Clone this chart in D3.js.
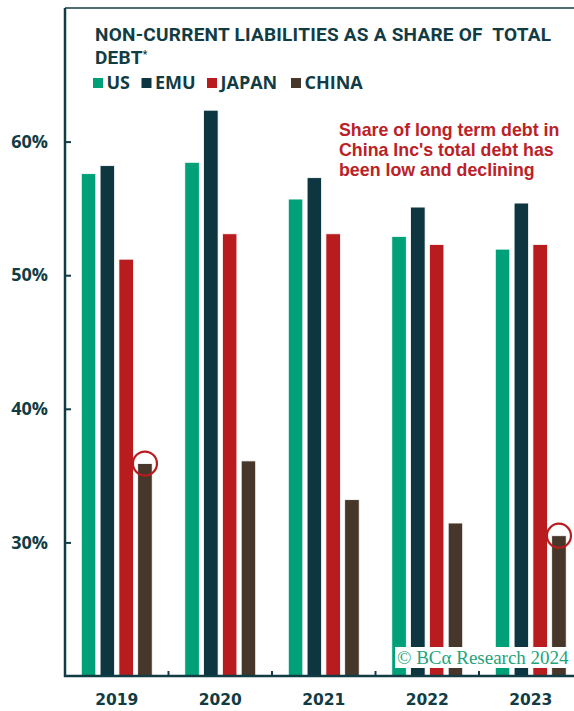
<!DOCTYPE html>
<html>
<head>
<meta charset="utf-8">
<script src="https://cdn.jsdelivr.net/npm/d3@7"></script>
<style>
  html, body { margin: 0; padding: 0; background: #fff; }
  svg { display: block; }
</style>
</head>
<body>
<svg id="chart" width="574" height="711"></svg>
<script>
// Non-current liabilities as a share of total debt, by region and year (%)
const years = ["2019", "2020", "2021", "2022", "2023"];
const regions = ["US", "EMU", "JAPAN", "CHINA"];
const usValues    = [57.6, 58.45, 55.7, 52.9, 51.95];
const emuValues   = [58.2, 62.35, 57.3, 55.1, 55.4];
const japanValues = [51.2, 53.1, 53.1, 52.3, 52.3];
const chinaValues = [35.9, 36.1, 33.2, 31.45, 30.5];
const yTicks = [30, 40, 50, 60];
const highlightYears = ["2019", "2023"];

const colors = { US: "#00a078", EMU: "#0e3640", JAPAN: "#b91c1f", CHINA: "#47372a" };
const ink = "#123c44";
const headFont = "'Open Sans', sans-serif";

const seriesValues = { US: usValues, EMU: emuValues, JAPAN: japanValues, CHINA: chinaValues };
const rows = years.map((yr, i) => ({
  year: yr,
  values: regions.map(r => ({ region: r, value: seriesValues[r][i] }))
}));

const svg = d3.select("#chart");

const plotLeft = 65, plotTop = 8, plotBottom = 676, plotRight = 582.5;

const x = d3.scaleBand().domain(years).range([plotLeft, plotRight]).padding(0);
const xInner = d3.scaleBand().domain(regions).range([0, x.bandwidth()])
  .paddingInner(0.229).paddingOuter(0.867);
const y = d3.scaleLinear().domain([20, 70]).range([plotBottom, plotTop]);

// spread the letters of a text so that it spans the given width
function spreadTo(sel, width) {
  const node = sel.node();
  const n = node.getNumberOfChars();
  const w = node.getComputedTextLength();
  if (n > 1 && w > 0) sel.style("letter-spacing", ((width - w) / (n - 1)).toFixed(3) + "px");
}

// bars
const groups = svg.append("g").selectAll("g")
  .data(rows).join("g")
  .attr("transform", d => `translate(${x(d.year)},0)`);

groups.selectAll("rect")
  .data(d => d.values).join("rect")
  .attr("x", d => xInner(d.region))
  .attr("width", xInner.bandwidth())
  .attr("y", d => y(d.value))
  .attr("height", d => y(20) - y(d.value))
  .attr("fill", d => colors[d.region])
  .attr("stroke", "#ffffff")
  .attr("stroke-width", 0.8);

// highlight circles on the China bars
svg.append("g").selectAll("circle")
  .data(highlightYears).join("circle")
  .attr("cx", yr => x(yr) + xInner("CHINA") + xInner.bandwidth() / 2)
  .attr("cy", yr => y(chinaValues[years.indexOf(yr)]))
  .attr("r", 12)
  .attr("fill", "none")
  .attr("stroke", "#b91c1f")
  .attr("stroke-width", 2.2);

// y axis
const yAxis = d3.axisLeft(y).tickValues(yTicks).tickFormat(d => d + "%").tickSize(-6).tickPadding(17);
const gy = svg.append("g").attr("transform", `translate(${plotLeft},0)`).call(yAxis);
gy.select(".domain").remove();
gy.selectAll(".tick line").attr("stroke", ink).attr("stroke-width", 2);
gy.selectAll(".tick text")
  .attr("fill", ink)
  .style("font-family", headFont)
  .style("font-weight", "700")
  .style("font-size", "18px");

// x axis labels
const xAxis = d3.axisBottom(x).tickSize(0).tickPadding(18);
const gx = svg.append("g").attr("transform", `translate(0,${plotBottom})`).call(xAxis);
gx.select(".domain").remove();
gx.selectAll(".tick text")
  .attr("fill", ink)
  .style("font-family", "'DejaVu Sans', sans-serif")
  .style("font-weight", "bold")
  .style("font-size", "15.5px");

// x ticks at group boundaries
svg.append("g").selectAll("line")
  .data(years.slice(1)).join("line")
  .attr("x1", d => x(d)).attr("x2", d => x(d))
  .attr("y1", plotBottom).attr("y2", plotBottom - 5)
  .attr("stroke", ink).attr("stroke-width", 2);

// frame: left axis, bottom axis, top rule
svg.append("line").attr("x1", plotLeft).attr("x2", plotLeft).attr("y1", plotTop).attr("y2", plotBottom + 1)
  .attr("stroke", ink).attr("stroke-width", 2.5);
svg.append("line").attr("x1", plotLeft - 1).attr("x2", 574).attr("y1", plotBottom).attr("y2", plotBottom)
  .attr("stroke", ink).attr("stroke-width", 2.5);
svg.append("line").attr("x1", plotLeft).attr("x2", 574).attr("y1", plotTop).attr("y2", plotTop)
  .attr("stroke", ink).attr("stroke-width", 1.6);

// title (two lines, same size)
const titleStyle = s => s.attr("fill", ink)
  .style("font-family", "Roboto, sans-serif")
  .style("font-weight", "700")
  .style("font-size", "19px");
const title1 = svg.append("text").call(titleStyle)
  .attr("x", 95).attr("y", 41)
  .attr("xml:space", "preserve")
  .text("NON-CURRENT LIABILITIES AS A SHARE OF  TOTAL");
spreadTo(title1, 456);
const title2 = svg.append("text").call(titleStyle)
  .style("letter-spacing", title1.style("letter-spacing"))
  .attr("x", 95).attr("y", 63.5);
title2.append("tspan").text("DEBT");
title2.append("tspan").attr("dy", -6).style("font-size", "10px").text("*");

// legend
const legendX = { US: 93, EMU: 141.5, JAPAN: 207, CHINA: 291 };
const lg = svg.append("g").selectAll("g").data(regions).join("g")
  .attr("transform", d => `translate(${legendX[d]},78)`);
lg.append("rect").attr("width", 10).attr("height", 10).attr("fill", d => colors[d]);
lg.append("text").attr("x", 13.5).attr("y", 10.5)
  .attr("fill", ink)
  .style("font-family", headFont)
  .style("font-weight", "700")
  .style("font-size", "18px")
  .text(d => d);

// annotation
const noteLines = ["Share of long term debt in", "China Inc's total debt has", "been low and declining"];
svg.append("g").selectAll("text").data(noteLines).join("text")
  .attr("x", 339)
  .attr("y", (d, i) => 136 + i * 20)
  .attr("fill", "#bb2227")
  .style("font-family", "'Liberation Sans', Arial, sans-serif")
  .style("font-weight", "700")
  .style("font-size", "17.8px")
  .text(d => d);

// watermark
const wm = svg.append("g");
wm.append("rect").attr("x", 395).attr("y", 647).attr("width", 173).attr("height", 21).attr("fill", "#fff");
wm.append("text").attr("x", 397).attr("y", 664)
  .attr("fill", "#1fa37b")
  .style("font-family", "'Liberation Serif', serif")
  .style("font-size", "19px")
  .text("© BCα Research 2024");
</script>
</body>
</html>
